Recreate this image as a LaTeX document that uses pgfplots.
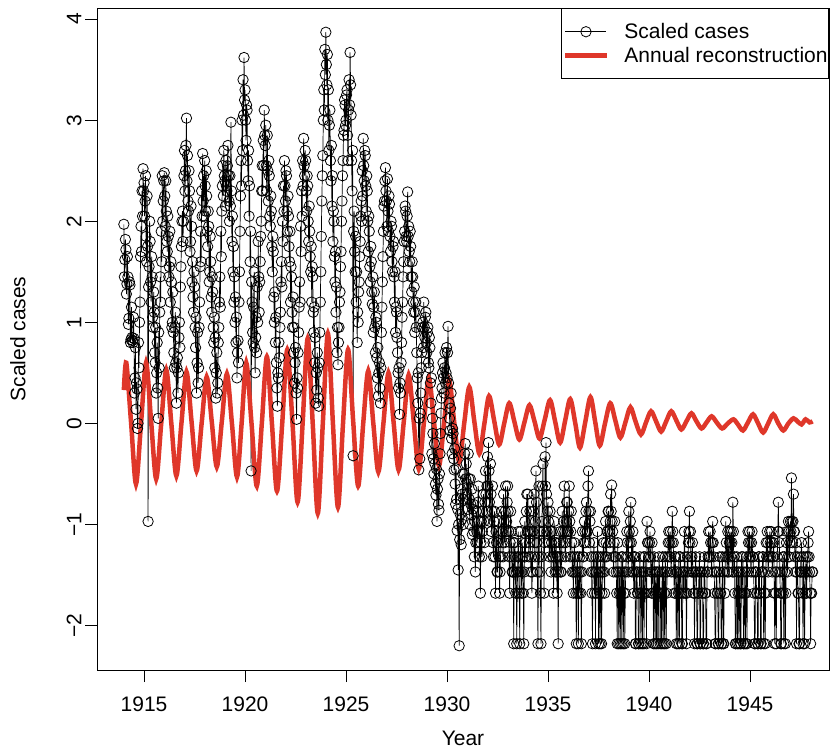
\documentclass[border=0pt]{standalone}
\usepackage{fontspec}
\setmainfont{Liberation Sans}
\usepackage{pgfplots}
\pgfplotsset{compat=1.18}
\definecolor{rred}{RGB}{223,55,42}
\begin{document}
\begin{tikzpicture}[font=\fontsize{21bp}{25bp}\selectfont]
\begin{axis}[
    scale only axis, width=732bp, height=662bp,
    xmin=1912.67, xmax=1948.91, ymin=-2.44, ymax=4.11,
    axis line style={line width=0.8bp},
    xtick={1915,1920,1925,1930,1935,1940,1945},
    xticklabels={1915,1920,1925,1930,1935,1940,1945},
    ytick={-2,-1,0,1,2,3,4},
    yticklabels={−2,−1,0,1,2,3,4},
    tick align=outside, major tick length=12bp,
    xtick pos=bottom, ytick pos=left,
    tick style={black, line width=0.8bp},
    xticklabel style={anchor=base, yshift=-29bp},
    yticklabel style={rotate=90, anchor=south},
    xlabel={Year}, ylabel={Scaled cases},
    every axis x label/.style={at={(axis description cs:0.5,0)}, anchor=base, yshift=-75bp},
    every axis y label/.style={at={(axis description cs:0,0.5)}, rotate=90, anchor=base, yshift=71.5bp},
    legend style={at={(rel axis cs:1,1)}, anchor=north east, draw=black, line width=0.8bp,
        fill=white, inner xsep=0bp, inner ysep=13bp, row sep=3bp, nodes={inner xsep=1bp},
        font=\fontsize{21bp}{25bp}\selectfont},
    legend cell align=left,
    legend image code/.code={\path[draw=none, fill=none] (-4bp,0bp) -- (58bp,0bp);
        \draw[mark repeat=2, mark phase=2, #1] plot coordinates {(0bp,0bp) (20.5bp,0bp) (41bp,0bp)};},
]
% scaled cases (thinned to 40 per year)
\addplot[black, line width=0.7bp, mark=o, mark size=5.2bp, mark options={line width=0.8bp}] coordinates {
(1914.000,1.97)(1914.025,1.45)(1914.050,1.62)(1914.075,1.82)(1914.100,1.72)(1914.125,1.28)(1914.150,1.38)(1914.175,1.65)(1914.200,1.45)(1914.225,0.98)(1914.250,1.04)(1914.275,1.40)(1914.300,1.37)(1914.325,0.80)(1914.350,0.83)(1914.375,1.15)(1914.400,0.85)(1914.425,0.82)(1914.450,0.80)(1914.475,1.05)(1914.500,0.84)(1914.525,0.30)(1914.550,0.45)(1914.575,0.75)(1914.600,0.14)(1914.625,0.40)(1914.650,0.34)(1914.675,-0.05)(1914.700,0.00)(1914.725,0.80)(1914.750,0.55)(1914.775,1.00)(1914.800,1.20)(1914.825,1.65)(1914.850,1.95)(1914.875,1.70)(1914.900,2.30)(1914.925,2.05)(1914.950,2.52)(1914.975,2.30)
(1915.000,2.38)(1915.025,2.05)(1915.050,2.20)(1915.075,2.45)(1915.100,1.85)(1915.125,1.60)(1915.150,2.25)(1915.175,1.75)(1915.200,-0.97)(1915.225,1.35)(1915.250,1.55)(1915.275,2.00)(1915.300,1.80)(1915.325,1.40)(1915.350,1.20)(1915.375,1.65)(1915.400,1.45)(1915.425,1.05)(1915.450,0.95)(1915.475,1.30)(1915.500,1.10)(1915.525,0.70)(1915.550,0.60)(1915.575,0.95)(1915.600,0.30)(1915.625,0.50)(1915.650,0.80)(1915.675,0.35)(1915.700,0.05)(1915.725,0.90)(1915.750,0.55)(1915.775,1.10)(1915.800,1.45)(1915.825,1.20)(1915.850,1.90)(1915.875,1.60)(1915.900,2.45)(1915.925,2.00)(1915.950,2.20)(1915.975,2.40)
(1916.000,2.48)(1916.025,2.25)(1916.050,1.95)(1916.075,2.40)(1916.100,2.10)(1916.125,1.80)(1916.150,1.70)(1916.175,2.05)(1916.200,1.85)(1916.225,1.45)(1916.250,1.55)(1916.275,1.90)(1916.300,1.20)(1916.325,1.60)(1916.350,1.40)(1916.375,0.95)(1916.400,1.00)(1916.425,1.30)(1916.450,0.90)(1916.475,0.70)(1916.500,0.55)(1916.525,0.95)(1916.550,1.10)(1916.575,0.60)(1916.600,0.20)(1916.625,0.55)(1916.650,0.65)(1916.675,0.30)(1916.700,0.50)(1916.725,0.85)(1916.750,1.00)(1916.775,0.75)(1916.800,1.35)(1916.825,1.55)(1916.850,1.75)(1916.875,2.00)(1916.900,2.10)(1916.925,1.80)(1916.950,2.00)(1916.975,2.45)
(1917.000,2.70)(1917.025,2.30)(1917.050,2.50)(1917.075,2.75)(1917.100,3.02)(1917.125,2.40)(1917.150,2.65)(1917.175,2.20)(1917.200,2.10)(1917.225,2.50)(1917.250,2.30)(1917.275,1.70)(1917.300,1.80)(1917.325,2.15)(1917.350,1.95)(1917.375,1.40)(1917.400,1.60)(1917.425,1.25)(1917.450,1.10)(1917.475,1.50)(1917.500,1.35)(1917.525,0.95)(1917.550,0.75)(1917.575,1.05)(1917.600,0.30)(1917.625,0.60)(1917.650,0.90)(1917.675,0.40)(1917.700,0.55)(1917.725,0.95)(1917.750,1.20)(1917.775,1.55)(1917.800,1.90)(1917.825,1.60)(1917.850,2.30)(1917.875,2.05)(1917.900,2.67)(1917.925,2.20)(1917.950,2.45)(1917.975,2.05)
(1918.000,2.60)(1918.025,2.35)(1918.050,2.10)(1918.075,2.50)(1918.100,2.25)(1918.125,1.90)(1918.150,1.75)(1918.175,2.10)(1918.200,1.95)(1918.225,1.40)(1918.250,1.50)(1918.275,1.85)(1918.300,1.60)(1918.325,1.25)(1918.350,1.10)(1918.375,1.45)(1918.400,1.30)(1918.425,0.95)(1918.450,0.80)(1918.475,1.05)(1918.500,0.55)(1918.525,0.85)(1918.550,0.25)(1918.575,0.50)(1918.600,0.70)(1918.625,0.30)(1918.650,0.40)(1918.675,0.80)(1918.700,0.95)(1918.725,1.20)(1918.750,1.45)(1918.775,1.15)(1918.800,1.90)(1918.825,1.65)(1918.850,2.10)(1918.875,2.35)(1918.900,2.55)(1918.925,2.25)(1918.950,2.70)(1918.975,2.45)
(1919.000,2.40)(1919.025,2.15)(1919.050,2.60)(1919.075,2.35)(1919.100,2.30)(1919.125,2.55)(1919.150,2.75)(1919.175,2.45)(1919.200,2.20)(1919.225,2.00)(1919.250,2.45)(1919.275,2.15)(1919.300,2.98)(1919.325,2.30)(1919.350,1.80)(1919.375,2.05)(1919.400,1.50)(1919.425,1.75)(1919.450,1.20)(1919.475,1.45)(1919.500,1.00)(1919.525,1.25)(1919.550,0.80)(1919.575,1.05)(1919.600,0.45)(1919.625,0.70)(1919.650,0.82)(1919.675,0.60)(1919.700,1.20)(1919.725,1.50)(1919.750,1.90)(1919.775,2.25)(1919.800,2.60)(1919.825,2.35)(1919.850,3.00)(1919.875,2.70)(1919.900,3.40)(1919.925,3.05)(1919.950,3.62)(1919.975,3.20)
(1920.000,3.30)(1920.025,3.00)(1920.050,2.80)(1920.075,3.15)(1920.100,3.10)(1920.125,2.60)(1920.150,2.40)(1920.175,2.70)(1920.200,2.05)(1920.225,2.35)(1920.250,1.60)(1920.275,1.90)(1920.300,-0.47)(1920.325,1.40)(1920.350,1.20)(1920.375,0.90)(1920.400,0.80)(1920.425,1.15)(1920.450,1.50)(1920.475,0.75)(1920.500,0.50)(1920.525,0.85)(1920.550,1.05)(1920.575,0.70)(1920.600,1.35)(1920.625,1.00)(1920.650,1.80)(1920.675,1.45)(1920.700,1.10)(1920.725,1.40)(1920.750,1.60)(1920.775,1.85)(1920.800,2.00)(1920.825,2.30)(1920.850,2.55)(1920.875,2.30)(1920.900,2.80)(1920.925,2.55)(1920.950,3.10)(1920.975,2.85)
(1921.000,2.75)(1921.025,2.95)(1921.050,2.55)(1921.075,2.30)(1921.100,2.85)(1921.125,2.50)(1921.150,2.20)(1921.175,2.60)(1921.200,2.45)(1921.225,2.05)(1921.250,1.95)(1921.275,2.25)(1921.300,2.10)(1921.325,1.75)(1921.350,1.50)(1921.375,1.85)(1921.400,1.70)(1921.425,1.25)(1921.450,1.00)(1921.475,1.30)(1921.500,0.80)(1921.525,1.05)(1921.550,0.60)(1921.575,0.35)(1921.600,0.17)(1921.625,0.50)(1921.650,0.45)(1921.675,0.80)(1921.700,0.65)(1921.725,0.95)(1921.750,1.10)(1921.775,1.40)(1921.800,1.60)(1921.825,1.35)(1921.850,2.00)(1921.875,1.80)(1921.900,2.35)(1921.925,2.10)(1921.950,2.60)(1921.975,2.35)
(1922.000,2.20)(1922.025,2.50)(1922.050,2.45)(1922.075,2.10)(1922.100,1.90)(1922.125,2.25)(1922.150,2.05)(1922.175,1.75)(1922.200,1.60)(1922.225,1.90)(1922.250,1.20)(1922.275,1.55)(1922.300,1.45)(1922.325,1.10)(1922.350,0.95)(1922.375,1.25)(1922.400,0.70)(1922.425,0.95)(1922.450,0.40)(1922.475,0.60)(1922.500,0.75)(1922.525,0.30)(1922.550,0.04)(1922.575,0.45)(1922.600,0.35)(1922.625,0.70)(1922.650,0.90)(1922.675,1.15)(1922.700,1.40)(1922.725,1.20)(1922.750,1.95)(1922.775,1.70)(1922.800,2.30)(1922.825,2.05)(1922.850,2.60)(1922.875,2.35)(1922.900,2.82)(1922.925,2.55)(1922.950,2.45)(1922.975,2.70)
(1923.000,2.60)(1923.025,2.30)(1923.050,2.10)(1923.075,2.45)(1923.100,2.35)(1923.125,2.00)(1923.150,1.80)(1923.175,2.15)(1923.200,1.90)(1923.225,1.65)(1923.250,1.50)(1923.275,1.75)(1923.300,1.20)(1923.325,1.55)(1923.350,1.45)(1923.375,1.10)(1923.400,0.90)(1923.425,1.15)(1923.450,0.60)(1923.475,0.85)(1923.500,0.20)(1923.525,0.50)(1923.550,0.33)(1923.575,0.70)(1923.600,0.55)(1923.625,0.25)(1923.650,0.17)(1923.675,0.60)(1923.700,0.90)(1923.725,1.20)(1923.750,1.50)(1923.775,1.85)(1923.800,2.20)(1923.825,2.45)(1923.850,2.65)(1923.875,3.00)(1923.900,3.30)(1923.925,3.10)(1923.950,3.70)(1923.975,3.45)
(1924.000,3.87)(1924.025,3.55)(1924.050,3.35)(1924.075,3.65)(1924.100,3.00)(1924.125,3.30)(1924.150,2.70)(1924.175,2.95)(1924.200,3.10)(1924.225,2.60)(1924.250,2.40)(1924.275,2.75)(1924.300,2.15)(1924.325,2.45)(1924.350,1.80)(1924.375,2.10)(1924.400,2.00)(1924.425,1.65)(1924.450,1.40)(1924.475,1.70)(1924.500,1.10)(1924.525,1.35)(1924.550,0.70)(1924.575,0.95)(1924.600,0.58)(1924.625,0.80)(1924.650,0.95)(1924.675,1.20)(1924.700,1.30)(1924.725,1.55)(1924.750,1.70)(1924.775,2.00)(1924.800,2.20)(1924.825,2.45)(1924.850,2.60)(1924.875,2.85)(1924.900,2.90)(1924.925,3.20)(1924.950,3.15)(1924.975,2.95)
(1925.000,3.00)(1925.025,3.25)(1925.050,3.30)(1925.075,2.85)(1925.100,2.60)(1925.125,3.10)(1925.150,3.40)(1925.175,3.15)(1925.200,3.67)(1925.225,3.35)(1925.250,3.05)(1925.275,2.60)(1925.300,2.30)(1925.325,2.70)(1925.350,-0.32)(1925.375,1.90)(1925.400,2.10)(1925.425,1.70)(1925.450,1.50)(1925.475,1.85)(1925.500,1.20)(1925.525,1.50)(1925.550,0.80)(1925.575,1.10)(1925.600,1.00)(1925.625,1.30)(1925.650,1.40)(1925.675,1.65)(1925.700,1.80)(1925.725,2.05)(1925.750,2.20)(1925.775,2.00)(1925.800,2.50)(1925.825,2.25)(1925.850,2.82)(1925.875,2.55)(1925.900,2.40)(1925.925,2.70)(1925.950,2.65)(1925.975,2.35)
(1926.000,2.10)(1926.025,2.45)(1926.050,2.30)(1926.075,2.00)(1926.100,1.70)(1926.125,2.05)(1926.150,1.90)(1926.175,1.55)(1926.200,1.40)(1926.225,1.75)(1926.250,1.60)(1926.275,1.30)(1926.300,1.18)(1926.325,1.45)(1926.350,0.90)(1926.375,1.15)(1926.400,1.30)(1926.425,0.95)(1926.450,0.70)(1926.475,1.05)(1926.500,1.00)(1926.525,0.65)(1926.550,0.45)(1926.575,0.75)(1926.600,0.27)(1926.625,0.50)(1926.650,0.60)(1926.675,0.35)(1926.700,0.20)(1926.725,0.55)(1926.750,0.90)(1926.775,1.15)(1926.800,1.40)(1926.825,1.65)(1926.850,1.90)(1926.875,2.15)(1926.900,2.20)(1926.925,2.40)(1926.950,2.53)(1926.975,2.30)
(1927.000,2.20)(1927.025,1.95)(1927.050,2.42)(1927.075,2.10)(1927.100,1.90)(1927.125,2.25)(1927.150,2.17)(1927.175,1.85)(1927.200,1.70)(1927.225,2.00)(1927.250,1.95)(1927.275,1.60)(1927.300,1.50)(1927.325,1.75)(1927.350,1.80)(1927.375,1.45)(1927.400,1.20)(1927.425,1.50)(1927.450,0.90)(1927.475,1.15)(1927.500,1.10)(1927.525,0.85)(1927.550,0.70)(1927.575,0.50)(1927.600,0.35)(1927.625,0.55)(1927.650,0.09)(1927.675,0.40)(1927.700,0.30)(1927.725,0.60)(1927.750,0.80)(1927.775,1.05)(1927.800,1.20)(1927.825,1.45)(1927.850,1.60)(1927.875,1.80)(1927.900,1.90)(1927.925,2.15)(1927.950,2.10)(1927.975,1.85)
(1928.000,1.80)(1928.025,2.05)(1928.050,2.29)(1928.075,1.85)(1928.100,1.95)(1928.125,1.70)(1928.150,1.60)(1928.175,1.90)(1928.200,1.75)(1928.225,1.45)(1928.250,1.30)(1928.275,1.60)(1928.300,1.45)(1928.325,1.20)(1928.350,1.10)(1928.375,1.35)(1928.400,0.90)(1928.425,1.10)(1928.450,1.20)(1928.475,0.95)(1928.500,0.70)(1928.525,0.45)(1928.550,0.20)(1928.575,0.50)(1928.600,-0.46)(1928.625,0.05)(1928.650,-0.35)(1928.675,0.10)(1928.700,0.30)(1928.725,0.55)(1928.750,0.70)(1928.775,0.95)(1928.800,1.00)(1928.825,0.75)(1928.850,1.20)(1928.875,0.95)(1928.900,0.85)(1928.925,1.05)(1928.950,1.10)(1928.975,0.80)
(1929.000,0.70)(1929.025,0.90)(1929.050,0.95)(1929.075,0.60)(1929.100,0.55)(1929.125,0.85)(1929.150,0.75)(1929.175,0.40)(1929.200,0.20)(1929.225,0.45)(1929.250,-0.30)(1929.275,0.05)(1929.300,-0.10)(1929.325,-0.35)(1929.350,-0.50)(1929.375,-0.20)(1929.400,-0.40)(1929.425,-0.60)(1929.450,-0.71)(1929.475,-0.45)(1929.500,-0.97)(1929.525,-0.65)(1929.550,-0.55)(1929.575,-0.80)(1929.600,-0.86)(1929.625,-0.50)(1929.650,-0.30)(1929.675,-0.10)(1929.700,0.10)(1929.725,0.25)(1929.750,0.35)(1929.775,0.50)(1929.800,0.60)(1929.825,0.45)(1929.850,0.30)(1929.875,0.55)(1929.900,0.70)(1929.925,0.40)(1929.950,0.50)(1929.975,0.75)
(1930.000,0.45)(1930.025,0.70)(1930.050,0.96)(1930.075,0.40)(1930.100,0.20)(1930.125,0.05)(1930.150,-0.07)(1930.175,0.15)(1930.200,0.30)(1930.225,-0.15)(1930.250,-0.30)(1930.275,-0.05)(1930.300,-0.10)(1930.325,-0.35)(1930.350,-0.46)(1930.375,-0.25)(1930.400,-0.60)(1930.425,-0.80)(1930.450,-0.45)(1930.475,-0.75)(1930.500,-1.06)(1930.525,-0.85)(1930.550,-1.45)(1930.575,-1.00)(1930.600,-2.20)(1930.625,-1.15)(1930.650,-0.90)(1930.675,-0.65)(1930.700,-1.20)(1930.725,-0.95)(1930.750,-0.70)(1930.775,-0.50)(1930.800,-1.00)(1930.825,-0.75)(1930.850,-0.50)(1930.875,-0.30)(1930.900,-0.20)(1930.925,-0.55)(1930.950,-0.40)(1930.975,-0.70)
(1931.000,-0.60)(1931.025,-0.85)(1931.050,-0.30)(1931.075,-0.55)(1931.100,-0.75)(1931.125,-1.00)(1931.150,-0.55)(1931.175,-0.80)(1931.200,-0.90)(1931.225,-0.65)(1931.250,-1.10)(1931.275,-0.85)(1931.300,-0.80)(1931.325,-1.07)(1931.350,-1.32)(1931.375,-0.97)(1931.400,-1.47)(1931.425,-1.18)(1931.450,-0.87)(1931.475,-1.07)(1931.500,-1.18)(1931.525,-0.78)(1931.550,-0.62)(1931.575,-0.97)(1931.600,-1.32)(1931.625,-1.07)(1931.650,-1.68)(1931.675,-1.18)(1931.700,-0.97)(1931.725,-1.32)(1931.750,-1.07)(1931.775,-0.87)(1931.800,-0.70)(1931.825,-0.97)(1931.850,-1.18)(1931.875,-0.78)(1931.900,-0.47)(1931.925,-0.70)(1931.950,-0.87)(1931.975,-0.62)
(1932.000,-0.33)(1932.025,-0.62)(1932.050,-0.19)(1932.075,-0.47)(1932.100,-0.78)(1932.125,-0.97)(1932.150,-0.40)(1932.175,-0.70)(1932.200,-1.07)(1932.225,-0.87)(1932.250,-0.62)(1932.275,-1.18)(1932.300,-1.32)(1932.325,-0.97)(1932.350,-0.87)(1932.375,-1.32)(1932.400,-1.68)(1932.425,-1.07)(1932.450,-1.18)(1932.475,-1.47)(1932.500,-1.47)(1932.525,-1.18)(1932.550,-0.97)(1932.575,-1.32)(1932.600,-1.68)(1932.625,-1.47)(1932.650,-1.32)(1932.675,-1.07)(1932.700,-0.87)(1932.725,-1.18)(1932.750,-1.07)(1932.775,-1.32)(1932.800,-0.70)(1932.825,-0.97)(1932.850,-1.18)(1932.875,-0.87)(1932.900,-0.62)(1932.925,-1.07)(1932.950,-0.97)(1932.975,-0.78)
(1933.000,-0.62)(1933.025,-0.87)(1933.050,-1.07)(1933.075,-1.32)(1933.100,-1.68)(1933.125,-1.18)(1933.150,-0.87)(1933.175,-1.07)(1933.200,-1.32)(1933.225,-1.47)(1933.250,-1.47)(1933.275,-1.18)(1933.300,-2.18)(1933.325,-1.47)(1933.350,-1.18)(1933.375,-1.32)(1933.400,-1.68)(1933.425,-1.47)(1933.450,-2.18)(1933.475,-1.68)(1933.500,-1.32)(1933.525,-1.07)(1933.550,-1.47)(1933.575,-1.68)(1933.600,-2.18)(1933.625,-1.32)(1933.650,-1.07)(1933.675,-1.47)(1933.700,-1.68)(1933.725,-1.18)(1933.750,-1.32)(1933.775,-1.68)(1933.800,-2.18)(1933.825,-1.47)(1933.850,-0.97)(1933.875,-1.32)(1933.900,-1.18)(1933.925,-0.87)(1933.950,-0.70)(1933.975,-1.07)
(1934.000,-0.70)(1934.025,-1.07)(1934.050,-1.32)(1934.075,-1.18)(1934.100,-0.87)(1934.125,-1.07)(1934.150,-1.47)(1934.175,-1.32)(1934.200,-1.68)(1934.225,-1.47)(1934.250,-1.07)(1934.275,-0.87)(1934.300,-0.70)(1934.325,-1.18)(1934.350,-1.32)(1934.375,-0.97)(1934.400,-0.47)(1934.425,-0.78)(1934.450,-1.18)(1934.475,-1.47)(1934.500,-2.18)(1934.525,-1.32)(1934.550,-0.62)(1934.575,-1.07)(1934.600,-1.47)(1934.625,-1.68)(1934.650,-2.18)(1934.675,-1.32)(1934.700,-0.97)(1934.725,-0.62)(1934.750,-0.40)(1934.775,-1.07)(1934.800,-1.68)(1934.825,-1.18)(1934.850,-0.33)(1934.875,-0.62)(1934.900,-0.19)(1934.925,-0.70)(1934.950,-1.07)(1934.975,-0.87)
(1935.000,-0.78)(1935.025,-0.97)(1935.050,-1.18)(1935.075,-1.32)(1935.100,-0.87)(1935.125,-1.07)(1935.150,-1.47)(1935.175,-1.18)(1935.200,-1.07)(1935.225,-1.32)(1935.250,-1.32)(1935.275,-1.68)(1935.300,-0.97)(1935.325,-1.18)(1935.350,-1.47)(1935.375,-1.32)(1935.400,-1.18)(1935.425,-1.47)(1935.450,-1.68)(1935.475,-1.32)(1935.500,-2.18)(1935.525,-1.47)(1935.550,-1.32)(1935.575,-1.18)(1935.600,-1.07)(1935.625,-1.47)(1935.650,-1.47)(1935.675,-1.32)(1935.700,-0.87)(1935.725,-1.07)(1935.750,-1.18)(1935.775,-0.97)(1935.800,-0.62)(1935.825,-1.07)(1935.850,-1.32)(1935.875,-1.18)(1935.900,-0.97)(1935.925,-0.78)(1935.950,-0.78)(1935.975,-1.07)
(1936.000,-1.07)(1936.025,-0.87)(1936.050,-0.62)(1936.075,-0.97)(1936.100,-1.32)(1936.125,-1.07)(1936.150,-0.87)(1936.175,-1.18)(1936.200,-1.47)(1936.225,-1.32)(1936.250,-1.68)(1936.275,-1.47)(1936.300,-1.18)(1936.325,-1.32)(1936.350,-1.47)(1936.375,-1.68)(1936.400,-2.18)(1936.425,-1.47)(1936.450,-1.32)(1936.475,-1.68)(1936.500,-2.18)(1936.525,-1.47)(1936.550,-1.68)(1936.575,-1.32)(1936.600,-1.47)(1936.625,-1.68)(1936.650,-2.18)(1936.675,-1.47)(1936.700,-1.07)(1936.725,-1.32)(1936.750,-1.32)(1936.775,-1.18)(1936.800,-0.97)(1936.825,-1.07)(1936.850,-1.18)(1936.875,-0.87)(1936.900,-0.78)(1936.925,-1.07)(1936.950,-1.07)(1936.975,-0.62)
(1937.000,-0.47)(1937.025,-0.87)(1937.050,-1.18)(1937.075,-0.97)(1937.100,-0.87)(1937.125,-1.32)(1937.150,-1.47)(1937.175,-1.68)(1937.200,-2.18)(1937.225,-1.47)(1937.250,-1.32)(1937.275,-1.18)(1937.300,-1.68)(1937.325,-1.47)(1937.350,-2.18)(1937.375,-1.32)(1937.400,-1.47)(1937.425,-1.68)(1937.450,-1.07)(1937.475,-1.32)(1937.500,-2.18)(1937.525,-1.47)(1937.550,-1.68)(1937.575,-2.18)(1937.600,-1.32)(1937.625,-1.47)(1937.650,-2.18)(1937.675,-1.68)(1937.700,-1.47)(1937.725,-1.32)(1937.750,-1.18)(1937.775,-1.47)(1937.800,-1.68)(1937.825,-1.32)(1937.850,-0.97)(1937.875,-1.18)(1937.900,-1.32)(1937.925,-1.07)(1937.950,-1.07)(1937.975,-0.87)
(1938.000,-0.87)(1938.025,-1.07)(1938.050,-1.18)(1938.075,-0.97)(1938.100,-0.70)(1938.125,-0.87)(1938.150,-0.61)(1938.175,-0.97)(1938.200,-1.07)(1938.225,-1.32)(1938.250,-1.47)(1938.275,-1.18)(1938.300,-0.97)(1938.325,-1.32)(1938.350,-1.32)(1938.375,-1.47)(1938.400,-1.68)(1938.425,-2.18)(1938.450,-1.18)(1938.475,-1.47)(1938.500,-2.18)(1938.525,-1.68)(1938.550,-1.47)(1938.575,-2.18)(1938.600,-1.68)(1938.625,-1.32)(1938.650,-2.18)(1938.675,-1.47)(1938.700,-1.32)(1938.725,-2.18)(1938.750,-1.68)(1938.775,-1.47)(1938.800,-2.18)(1938.825,-1.68)(1938.850,-1.47)(1938.875,-1.32)(1938.900,-1.07)(1938.925,-1.18)(1938.950,-1.32)(1938.975,-1.47)
(1939.000,-0.87)(1939.025,-1.07)(1939.050,-1.18)(1939.075,-0.97)(1939.100,-0.78)(1939.125,-1.18)(1939.150,-1.47)(1939.175,-1.32)(1939.200,-1.07)(1939.225,-1.47)(1939.250,-1.68)(1939.275,-1.32)(1939.300,-1.32)(1939.325,-2.18)(1939.350,-2.18)(1939.375,-1.47)(1939.400,-1.47)(1939.425,-1.68)(1939.450,-1.68)(1939.475,-2.18)(1939.500,-2.18)(1939.525,-1.47)(1939.550,-1.32)(1939.575,-1.68)(1939.600,-2.18)(1939.625,-1.47)(1939.650,-1.68)(1939.675,-2.18)(1939.700,-1.47)(1939.725,-1.32)(1939.750,-2.18)(1939.775,-1.68)(1939.800,-1.32)(1939.825,-1.47)(1939.850,-1.68)(1939.875,-2.18)(1939.900,-0.97)(1939.925,-1.18)(1939.950,-1.18)(1939.975,-1.32)
(1940.000,-1.32)(1940.025,-1.18)(1940.050,-1.07)(1940.075,-1.32)(1940.100,-1.47)(1940.125,-1.68)(1940.150,-1.18)(1940.175,-1.47)(1940.200,-1.68)(1940.225,-2.18)(1940.250,-1.32)(1940.275,-1.47)(1940.300,-2.18)(1940.325,-1.68)(1940.350,-1.47)(1940.375,-2.18)(1940.400,-1.68)(1940.425,-1.47)(1940.450,-2.18)(1940.475,-1.68)(1940.500,-1.32)(1940.525,-1.47)(1940.550,-2.18)(1940.575,-1.68)(1940.600,-1.68)(1940.625,-2.18)(1940.650,-1.47)(1940.675,-1.32)(1940.700,-2.18)(1940.725,-1.47)(1940.750,-1.68)(1940.775,-2.18)(1940.800,-1.32)(1940.825,-1.47)(1940.850,-2.18)(1940.875,-1.68)(1940.900,-1.47)(1940.925,-1.32)(1940.950,-1.18)(1940.975,-1.07)
(1941.000,-1.32)(1941.025,-1.18)(1941.050,-1.07)(1941.075,-1.32)(1941.100,-1.47)(1941.125,-1.18)(1941.150,-0.87)(1941.175,-1.07)(1941.200,-1.18)(1941.225,-1.47)(1941.250,-1.68)(1941.275,-1.32)(1941.300,-1.32)(1941.325,-1.68)(1941.350,-2.18)(1941.375,-1.47)(1941.400,-1.47)(1941.425,-2.18)(1941.450,-1.68)(1941.475,-1.32)(1941.500,-2.18)(1941.525,-1.68)(1941.550,-1.32)(1941.575,-1.47)(1941.600,-1.68)(1941.625,-2.18)(1941.650,-2.18)(1941.675,-1.47)(1941.700,-1.47)(1941.725,-1.68)(1941.750,-1.07)(1941.775,-1.32)(1941.800,-1.68)(1941.825,-1.47)(1941.850,-2.18)(1941.875,-1.68)(1941.900,-1.32)(1941.925,-1.47)(1941.950,-1.18)(1941.975,-1.07)
(1942.000,-0.87)(1942.025,-1.18)(1942.050,-1.07)(1942.075,-1.32)(1942.100,-1.47)(1942.125,-1.32)(1942.150,-1.18)(1942.175,-1.47)(1942.200,-1.68)(1942.225,-1.47)(1942.250,-2.18)(1942.275,-1.68)(1942.300,-1.32)(1942.325,-1.47)(1942.350,-1.47)(1942.375,-2.18)(1942.400,-2.18)(1942.425,-1.68)(1942.450,-1.68)(1942.475,-1.47)(1942.500,-1.32)(1942.525,-2.18)(1942.550,-2.18)(1942.575,-1.47)(1942.600,-1.47)(1942.625,-1.68)(1942.650,-1.68)(1942.675,-2.18)(1942.700,-2.18)(1942.725,-1.47)(1942.750,-1.32)(1942.775,-1.68)(1942.800,-1.68)(1942.825,-2.18)(1942.850,-2.18)(1942.875,-1.47)(1942.900,-1.47)(1942.925,-1.32)(1942.950,-1.07)(1942.975,-1.32)
(1943.000,-1.32)(1943.025,-1.07)(1943.050,-1.18)(1943.075,-1.32)(1943.100,-1.47)(1943.125,-1.18)(1943.150,-0.97)(1943.175,-1.18)(1943.200,-1.32)(1943.225,-1.47)(1943.250,-1.68)(1943.275,-2.18)(1943.300,-2.18)(1943.325,-1.47)(1943.350,-1.47)(1943.375,-1.68)(1943.400,-1.68)(1943.425,-2.18)(1943.450,-2.18)(1943.475,-1.47)(1943.500,-1.32)(1943.525,-1.68)(1943.550,-1.68)(1943.575,-2.18)(1943.600,-2.18)(1943.625,-1.32)(1943.650,-1.47)(1943.675,-2.18)(1943.700,-2.18)(1943.725,-1.47)(1943.750,-1.68)(1943.775,-1.32)(1943.800,-0.97)(1943.825,-1.18)(1943.850,-1.32)(1943.875,-1.47)(1943.900,-1.07)(1943.925,-1.32)(1943.950,-1.47)(1943.975,-1.18)
(1944.000,-1.07)(1944.025,-1.18)(1944.050,-1.32)(1944.075,-1.07)(1944.100,-1.18)(1944.125,-1.47)(1944.150,-0.78)(1944.175,-1.07)(1944.200,-1.47)(1944.225,-1.32)(1944.250,-1.68)(1944.275,-2.18)(1944.300,-2.18)(1944.325,-1.47)(1944.350,-1.32)(1944.375,-2.18)(1944.400,-1.68)(1944.425,-1.47)(1944.450,-2.18)(1944.475,-1.68)(1944.500,-1.47)(1944.525,-2.18)(1944.550,-2.18)(1944.575,-1.32)(1944.600,-1.68)(1944.625,-1.47)(1944.650,-1.32)(1944.675,-2.18)(1944.700,-2.18)(1944.725,-1.68)(1944.750,-1.47)(1944.775,-2.18)(1944.800,-1.68)(1944.825,-1.32)(1944.850,-2.18)(1944.875,-1.47)(1944.900,-1.07)(1944.925,-1.18)(1944.950,-1.32)(1944.975,-1.07)
(1945.000,-1.18)(1945.025,-1.32)(1945.050,-1.47)(1945.075,-1.18)(1945.100,-1.07)(1945.125,-1.32)(1945.150,-1.32)(1945.175,-1.47)(1945.200,-1.68)(1945.225,-2.18)(1945.250,-2.18)(1945.275,-1.47)(1945.300,-1.47)(1945.325,-1.68)(1945.350,-1.68)(1945.375,-2.18)(1945.400,-2.18)(1945.425,-1.32)(1945.450,-1.32)(1945.475,-1.68)(1945.500,-1.68)(1945.525,-2.18)(1945.550,-2.18)(1945.575,-1.47)(1945.600,-1.47)(1945.625,-1.32)(1945.650,-1.32)(1945.675,-2.18)(1945.700,-1.68)(1945.725,-1.47)(1945.750,-2.18)(1945.775,-1.68)(1945.800,-1.18)(1945.825,-1.32)(1945.850,-1.07)(1945.875,-1.18)(1945.900,-1.47)(1945.925,-1.32)(1945.950,-1.32)(1945.975,-1.07)
(1946.000,-1.18)(1946.025,-1.32)(1946.050,-1.07)(1946.075,-1.18)(1946.100,-1.47)(1946.125,-1.32)(1946.150,-1.32)(1946.175,-1.18)(1946.200,-1.68)(1946.225,-2.18)(1946.250,-1.47)(1946.275,-1.68)(1946.300,-2.18)(1946.325,-1.47)(1946.350,-1.32)(1946.375,-1.07)(1946.400,-0.78)(1946.425,-1.07)(1946.450,-1.18)(1946.475,-1.47)(1946.500,-1.68)(1946.525,-2.18)(1946.550,-2.18)(1946.575,-1.68)(1946.600,-1.47)(1946.625,-1.32)(1946.650,-1.68)(1946.675,-2.18)(1946.700,-1.32)(1946.725,-1.47)(1946.750,-2.18)(1946.775,-1.68)(1946.800,-1.18)(1946.825,-1.07)(1946.850,-1.47)(1946.875,-1.32)(1946.900,-0.97)(1946.925,-1.07)(1946.950,-1.32)(1946.975,-1.18)
(1947.000,-0.97)(1947.025,-1.07)(1947.050,-0.54)(1947.075,-0.97)(1947.100,-1.18)(1947.125,-0.97)(1947.150,-0.70)(1947.175,-1.07)(1947.200,-1.07)(1947.225,-1.32)(1947.250,-1.47)(1947.275,-1.18)(1947.300,-2.18)(1947.325,-1.47)(1947.350,-1.32)(1947.375,-1.68)(1947.400,-1.68)(1947.425,-2.18)(1947.450,-2.18)(1947.475,-1.47)(1947.500,-1.47)(1947.525,-1.32)(1947.550,-1.18)(1947.575,-1.47)(1947.600,-1.68)(1947.625,-2.18)(1947.650,-1.32)(1947.675,-1.47)(1947.700,-2.18)(1947.725,-1.68)(1947.750,-1.47)(1947.775,-1.32)(1947.800,-1.68)(1947.825,-1.47)(1947.850,-1.32)(1947.875,-1.18)(1947.900,-1.07)(1947.925,-1.32)(1947.950,-1.47)(1947.975,-1.68)
(1948.000,-2.18)(1948.025,-1.68)(1948.050,-1.68)(1948.075,-1.47)(1948.100,-1.47)
};
\addlegendentry{Scaled cases}
% annual component
\addplot[rred, line width=4.5bp, smooth] coordinates {
(1914.00,0.33)(1914.12,0.60)(1914.36,0.00)(1914.60,-0.60)(1914.85,0.00)
(1915.10,0.60)(1915.35,0.02)(1915.60,-0.55)(1915.85,0.00)
(1916.10,0.53)(1916.35,0.00)(1916.60,-0.52)(1916.85,0.00)
(1917.10,0.51)(1917.35,0.02)(1917.60,-0.47)(1917.85,0.00)
(1918.10,0.46)(1918.35,0.02)(1918.60,-0.43)(1918.85,0.02)
(1919.10,0.49)(1919.35,0.00)(1919.60,-0.53)(1919.83,0.00)
(1920.06,0.60)(1920.32,0.00)(1920.58,-0.62)(1920.83,0.00)
(1921.08,0.66)(1921.33,0.00)(1921.58,-0.67)(1921.84,0.00)
(1922.09,0.73)(1922.35,0.00)(1922.60,-0.78)(1922.85,0.00)
(1923.10,0.84)(1923.35,0.00)(1923.60,-0.89)(1923.85,0.00)
(1924.10,0.89)(1924.35,0.00)(1924.60,-0.83)(1924.85,0.00)
(1925.10,0.73)(1925.35,0.03)(1925.60,-0.62)(1925.85,0.00)
(1926.10,0.52)(1926.35,0.00)(1926.60,-0.48)(1926.85,0.00)
(1927.10,0.50)(1927.35,0.02)(1927.60,-0.46)(1927.85,0.00)
(1928.10,0.48)(1928.35,0.02)(1928.60,-0.45)(1928.85,0.00)
(1929.10,0.45)(1929.35,0.02)(1929.60,-0.42)(1929.85,0.00)
(1930.10,0.43)(1930.35,0.02)(1930.60,-0.38)(1930.85,0.00)
(1931.10,0.36)(1931.35,0.02)(1931.60,-0.30)(1931.85,0.00)
(1932.08,0.27)(1932.33,0.03)(1932.58,-0.21)(1932.83,0.00)
(1933.08,0.20)(1933.33,0.02)(1933.58,-0.16)(1933.83,0.01)
(1934.08,0.18)(1934.33,0.02)(1934.58,-0.15)(1934.84,0.04)
(1935.10,0.23)(1935.35,0.02)(1935.60,-0.19)(1935.85,0.03)
(1936.10,0.24)(1936.35,0.00)(1936.58,-0.24)(1936.84,0.01)
(1937.10,0.26)(1937.33,0.02)(1937.56,-0.22)(1937.82,0.00)
(1938.08,0.20)(1938.33,0.03)(1938.58,-0.14)(1938.83,0.01)
(1939.08,0.16)(1939.33,0.02)(1939.60,-0.11)(1939.85,0.01)
(1940.10,0.12)(1940.35,0.02)(1940.60,-0.08)(1940.85,0.02)
(1941.10,0.12)(1941.35,0.03)(1941.60,-0.06)(1941.85,0.02)
(1942.10,0.10)(1942.35,0.02)(1942.60,-0.05)(1942.85,0.01)
(1943.10,0.07)(1943.35,0.01)(1943.62,-0.05)(1943.90,0.00)
(1944.18,0.04)(1944.40,-0.01)(1944.65,-0.07)(1944.90,0.01)
(1945.15,0.09)(1945.40,0.00)(1945.65,-0.09)(1945.90,0.00)
(1946.15,0.09)(1946.40,0.00)(1946.65,-0.07)(1946.90,0.00)
(1947.15,0.05)(1947.35,0.02)(1947.55,-0.01)(1947.75,0.04)(1947.95,0.01)(1948.10,0.02)
};
\addlegendentry{Annual reconstruction}
\end{axis}
\pgfresetboundingbox
\path (-97bp,-79bp) rectangle (734bp,670bp);
\end{tikzpicture}
\end{document}
